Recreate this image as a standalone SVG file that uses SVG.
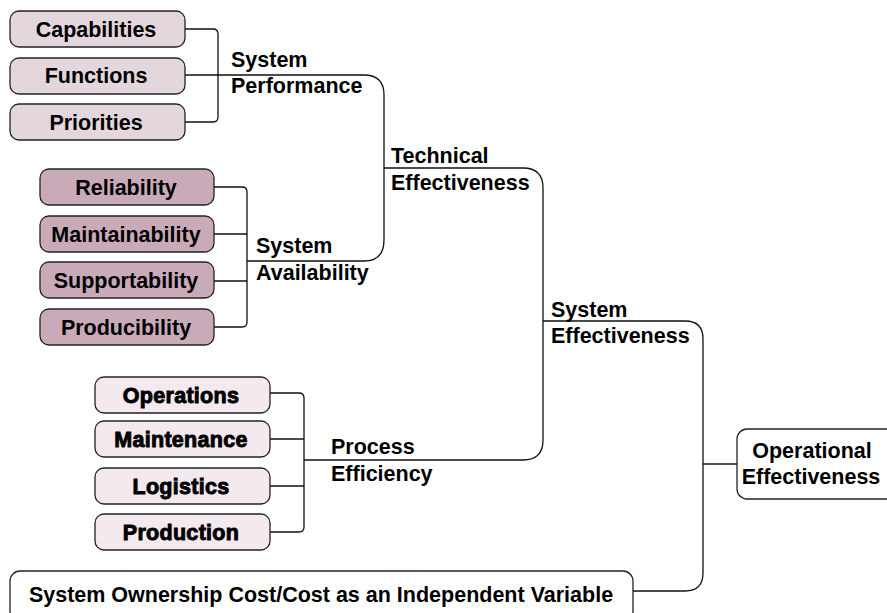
<svg xmlns="http://www.w3.org/2000/svg" width="887" height="613" viewBox="0 0 887 613">
<style>
.b{stroke:#222;stroke-width:1.3}
.p1{fill:#e4d6dd}
.p2{fill:#c9aab9}
.p3{fill:#f3e9ee}
.w{fill:#fff}
.t{font-family:"Liberation Sans",Arial,sans-serif;font-weight:bold;font-size:21.5px;fill:#000}
.h{font-family:"Liberation Sans",Arial,sans-serif;font-weight:bold;font-size:21.5px;fill:#000;stroke:#000;stroke-width:0.9;letter-spacing:0.3px}
.c{fill:none;stroke:#111;stroke-width:1.3}
</style>
<rect width="887" height="613" fill="#fff"/>
<g id="connectors">
<path class="c" d="M185,29 H213 Q218,29 218,34 V117 Q218,122 213,122 H185"/>
<path class="c" d="M185,75 H364 Q384,75 384,95 V240 Q384,261 364,261 H247"/>
<path class="c" d="M214,187 H242 Q247,187 247,192 V322 Q247,327 242,327 H214"/>
<path class="c" d="M214,234 H247 M214,281 H247"/>
<path class="c" d="M384,168 H523 Q543,168 543,188 V440 Q543,460 523,460 H304"/>
<path class="c" d="M270,393 H299 Q304,393 304,398 V527 Q304,532 299,532 H270"/>
<path class="c" d="M270,439 H304 M270,486 H304"/>
<path class="c" d="M543,321 H685 Q703,321 703,339 V573 Q703,591 685,591 H633"/>
<path class="c" d="M703,464 H737"/>
</g>
<g id="capabilities"><rect class="b p1" x="10" y="11" width="175" height="36" rx="9"/><text class="t" x="96" y="37" text-anchor="middle">Capabilities</text></g>
<g id="functions"><rect class="b p1" x="10" y="58" width="175" height="36" rx="9"/><text class="t" x="96" y="83" text-anchor="middle">Functions</text></g>
<g id="priorities"><rect class="b p1" x="10" y="104" width="175" height="36" rx="9"/><text class="t" x="96" y="130" text-anchor="middle">Priorities</text></g>
<g id="reliability"><rect class="b p2" x="40" y="169" width="174" height="36" rx="9"/><text class="t" x="126" y="195" text-anchor="middle">Reliability</text></g>
<g id="maintainability"><rect class="b p2" x="40" y="216" width="174" height="36" rx="9"/><text class="t" x="126" y="242" text-anchor="middle">Maintainability</text></g>
<g id="supportability"><rect class="b p2" x="40" y="262" width="174" height="36" rx="9"/><text class="t" x="126" y="288" text-anchor="middle">Supportability</text></g>
<g id="producibility"><rect class="b p2" x="40" y="309" width="174" height="36" rx="9"/><text class="t" x="126" y="335" text-anchor="middle">Producibility</text></g>
<g id="operations"><rect class="b p3" x="95" y="377" width="175" height="36" rx="9"/><text class="h" x="181" y="403" text-anchor="middle">Operations</text></g>
<g id="maintenance"><rect class="b p3" x="95" y="421" width="175" height="36" rx="9"/><text class="h" x="181" y="447" text-anchor="middle">Maintenance</text></g>
<g id="logistics"><rect class="b p3" x="95" y="468" width="175" height="36" rx="9"/><text class="h" x="181" y="494" text-anchor="middle">Logistics</text></g>
<g id="production"><rect class="b p3" x="95" y="514" width="175" height="36" rx="9"/><text class="h" x="181" y="540" text-anchor="middle">Production</text></g>
<g id="system-performance"><text class="t" x="231" y="67">System</text><text class="t" x="231" y="93">Performance</text></g>
<g id="system-availability"><text class="t" x="256" y="253">System</text><text class="t" x="256" y="280">Availability</text></g>
<g id="technical-effectiveness"><text class="t" x="391" y="163">Technical</text><text class="t" x="391" y="190">Effectiveness</text></g>
<g id="process-efficiency"><text class="t" x="331" y="454">Process</text><text class="t" x="331" y="481">Efficiency</text></g>
<g id="system-effectiveness"><text class="t" x="551" y="317">System</text><text class="t" x="551" y="343">Effectiveness</text></g>
<g id="operational-effectiveness"><rect class="b w" x="737" y="429" width="170" height="70" rx="10"/><text class="t" x="812" y="458" text-anchor="middle">Operational</text><text class="t" x="811" y="484" text-anchor="middle">Effectiveness</text></g>
<g id="ownership-cost"><rect class="b w" x="10" y="571" width="623" height="50" rx="10"/><text class="t" x="321" y="602" text-anchor="middle">System Ownership Cost/Cost as an Independent Variable</text></g>
</svg>
